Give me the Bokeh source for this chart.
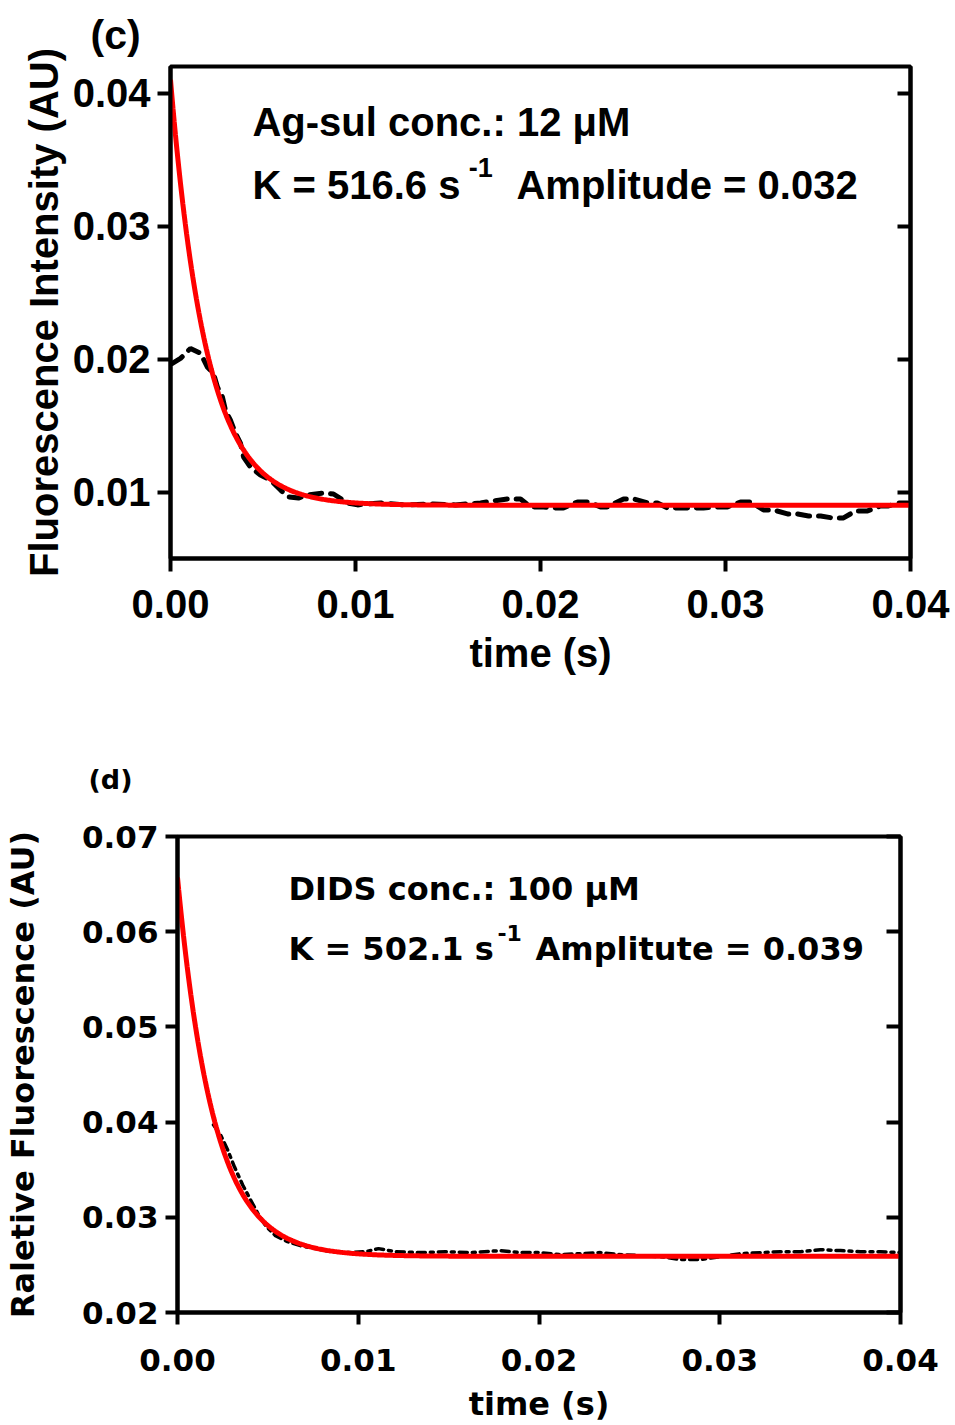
import numpy as np
from bokeh.plotting import figure
from bokeh.models import (Range1d, LinearAxis, FixedTicker, PrintfTickFormatter,
                          CustomJSTickFormatter, Label, Title)
from bokeh.embed import file_html
from bokeh.resources import INLINE

# ---------------- data: panel (c) ----------------
c_time = [0.0001, 0.00054, 0.00108, 0.00162, 0.0020, 0.00232, 0.00254, 0.00281, 0.00297, 0.00324,
          0.00351, 0.00378, 0.00395, 0.00432, 0.00486, 0.00541, 0.00595, 0.00638, 0.00692, 0.00746,
          0.00827, 0.00881, 0.00957, 0.01011, 0.01135, 0.0127, 0.01405, 0.0154, 0.01676, 0.01822,
          0.01892, 0.01946, 0.02016, 0.0207, 0.02124, 0.022, 0.0226, 0.02324, 0.02362, 0.02449,
          0.02503, 0.02578, 0.02632, 0.02686, 0.02757, 0.02822, 0.02881, 0.02957, 0.03011, 0.03081,
          0.03135, 0.03205, 0.03259, 0.03335, 0.03389, 0.03449, 0.03514, 0.03578, 0.03638, 0.03703,
          0.03768, 0.03838, 0.03881, 0.03935, 0.03984]
c_signal = [0.01967, 0.02005, 0.0208, 0.02043, 0.01938, 0.01893, 0.01788, 0.01713, 0.01615, 0.0154,
            0.01443, 0.01368, 0.01263, 0.01188, 0.01128, 0.0109, 0.01015, 0.00963, 0.00955, 0.00978,
            0.00993, 0.00985, 0.00918, 0.00903, 0.00918, 0.00903, 0.0091, 0.00903, 0.00918, 0.00948,
            0.00948, 0.00888, 0.00888, 0.0088, 0.0088, 0.00925, 0.00925, 0.00888, 0.00888, 0.00948,
            0.00948, 0.00918, 0.00918, 0.0088, 0.0088, 0.0088, 0.0088, 0.00888, 0.00888, 0.00925,
            0.00925, 0.00865, 0.00865, 0.00835, 0.00835, 0.0082, 0.0082, 0.00805, 0.00805, 0.00858,
            0.00858, 0.00895, 0.00895, 0.00918, 0.00918]
c_K = 516.6
c_amp = 0.032
c_offset = 0.009
c_xticks = [0.0, 0.01, 0.02, 0.03, 0.04]
c_yticks = [0.01, 0.02, 0.03, 0.04]

# ---------------- data: panel (d) ----------------
d_time = [0.00199, 0.00238, 0.00277, 0.00315, 0.0036, 0.00404, 0.00448, 0.00492, 0.00542, 0.00609,
          0.0068, 0.00763, 0.00846, 0.00957, 0.0104, 0.01112, 0.01206, 0.01344, 0.01483, 0.01621,
          0.01787, 0.01898, 0.02008, 0.02119, 0.0223, 0.0234, 0.02451, 0.02562, 0.02672, 0.02783,
          0.02894, 0.03004, 0.03115, 0.03226, 0.03336, 0.03447, 0.03557, 0.03668, 0.03779, 0.03889,
          0.04]
d_signal = [0.03971, 0.03866, 0.03709, 0.0353, 0.03342, 0.03184, 0.03027, 0.02901, 0.02807, 0.02744,
            0.02702, 0.02671, 0.02639, 0.02629, 0.02639, 0.02671, 0.02639, 0.02629, 0.02639, 0.02629,
            0.0265, 0.02629, 0.02629, 0.02608, 0.02618, 0.02629, 0.02608, 0.02597, 0.02587, 0.02556,
            0.02556, 0.02587, 0.02618, 0.02629, 0.02639, 0.02639, 0.0266, 0.0265, 0.02639, 0.02639,
            0.02629]
d_K = 502.1
d_amp = 0.0398
d_offset = 0.0259
d_xticks = [0.0, 0.01, 0.02, 0.03, 0.04]
d_yticks = [0.02, 0.03, 0.04, 0.05, 0.06, 0.07]

t_fit = np.linspace(0.0, 0.04, 600)
c_fit = c_amp * np.exp(-c_K * t_fit) + c_offset
d_fit = d_amp * np.exp(-d_K * t_fit) + d_offset


def style_axes(p, xticks, yticks, font, tick_size, label_size, tick_out, tick_in_right,
               xstand, ystand, xlab_stand, ylab_stand):
    for ax in p.xaxis + p.yaxis:
        ax.axis_line_width = 4
        ax.major_tick_line_width = 4
        ax.minor_tick_line_color = None
        ax.major_tick_in = 0
        ax.major_tick_out = tick_out
        ax.major_label_text_font = font
        ax.major_label_text_font_style = "bold"
        ax.major_label_text_font_size = tick_size
        ax.major_label_text_color = "black"
        ax.axis_label_text_font = font
        ax.axis_label_text_font_style = "bold"
        ax.axis_label_text_font_size = label_size
        ax.axis_label_text_color = "black"
    p.xaxis.ticker = FixedTicker(ticks=xticks)
    p.yaxis.ticker = FixedTicker(ticks=yticks)
    p.xaxis.formatter = PrintfTickFormatter(format="%.2f")
    p.yaxis.formatter = PrintfTickFormatter(format="%.2f")
    p.xaxis.major_label_standoff = xstand
    p.yaxis.major_label_standoff = ystand
    p.xaxis.axis_label_standoff = xlab_stand
    p.yaxis.axis_label_standoff = ylab_stand

    r = LinearAxis(ticker=FixedTicker(ticks=yticks),
                   formatter=CustomJSTickFormatter(code="return ''"),
                   axis_line_width=4, major_tick_line_width=4,
                   major_tick_in=tick_in_right, major_tick_out=0,
                   minor_tick_line_color=None, major_label_text_font_size="0px",
                   major_label_standoff=0)
    p.add_layout(r, "right")
    p.xgrid.visible = False
    p.ygrid.visible = False
    p.outline_line_color = "black"
    p.outline_line_width = 4
    p.background_fill_color = "white"
    p.border_fill_color = "white"


def lab(p, x, y, text, size, font):
    p.add_layout(Label(x=x, y=y, text=text, text_font=font, text_font_size=size,
                       text_font_style="bold", text_color="black",
                       text_baseline="alphabetic", text_align="left"))


# ---------------- panel (c) ----------------
FC = "Liberation Sans"
p1 = figure(width=950, height=700, x_range=Range1d(0.0, 0.04), y_range=Range1d(0.005, 0.042),
            output_backend="svg", toolbar_location=None,
            min_border_left=170, min_border_right=40, min_border_top=66, min_border_bottom=142,
            x_axis_label="time (s)", y_axis_label="Fluorescence Intensity (AU)")
p1.add_layout(Title(text="(c)", text_font=FC, text_font_size="41px", text_font_style="bold",
                    text_color="black", align="left", offset=-80, standoff=18), "above")
style_axes(p1, c_xticks, c_yticks, FC, "40px", "40px", 13, 13, 18, 7, 10, 4)

p1.line(c_time, c_signal, line_color="black", line_width=5, line_dash="12 9", line_cap="round")
p1.line(t_fit, c_fit, line_color="#ff0000", line_width=5)

lab(p1, 0.00443, 0.03783, "Ag-sul conc.: 12 μM", "40px", FC)
lab(p1, 0.00443, 0.03310, "K = 516.6 s", "40px", FC)
lab(p1, 0.01612, 0.03440, "-1", "27px", FC)
lab(p1, 0.01870, 0.03310, "Amplitude = 0.032", "40px", FC)

# ---------------- panel (d) ----------------
FD = "DejaVu Sans"
p2 = figure(width=950, height=725, x_range=Range1d(0.0, 0.04), y_range=Range1d(0.02, 0.07),
            output_backend="svg", toolbar_location=None,
            min_border_left=177, min_border_right=50, min_border_top=136, min_border_bottom=112,
            x_axis_label="time (s)", y_axis_label="Raletive Fluorescence (AU)")
p2.add_layout(Title(text="(d)", text_font=FD, text_font_size="27px", text_font_style="bold",
                    text_color="black", align="left", offset=-89, standoff=84), "above")
style_axes(p2, d_xticks, d_yticks, FD, "31px", "32px", 12, 14, 24, 7, 11, 37)

p2.line(d_time, d_signal, line_color="black", line_width=3.5, line_dash="8 5 3 5", line_cap="round")
p2.line(t_fit, d_fit, line_color="#ff0000", line_width=5)

lab(p2, 0.00614, 0.06444, "DIDS conc.: 100 μM", "32px", FD)
lab(p2, 0.00614, 0.05816, "K = 502.1 s", "32px", FD)
lab(p2, 0.01770, 0.05983, "-1", "22px", FD)
lab(p2, 0.01981, 0.05816, "Amplitute = 0.039", "32px", FD)

open("out.html", "w").write(file_html([p1, p2], INLINE))
